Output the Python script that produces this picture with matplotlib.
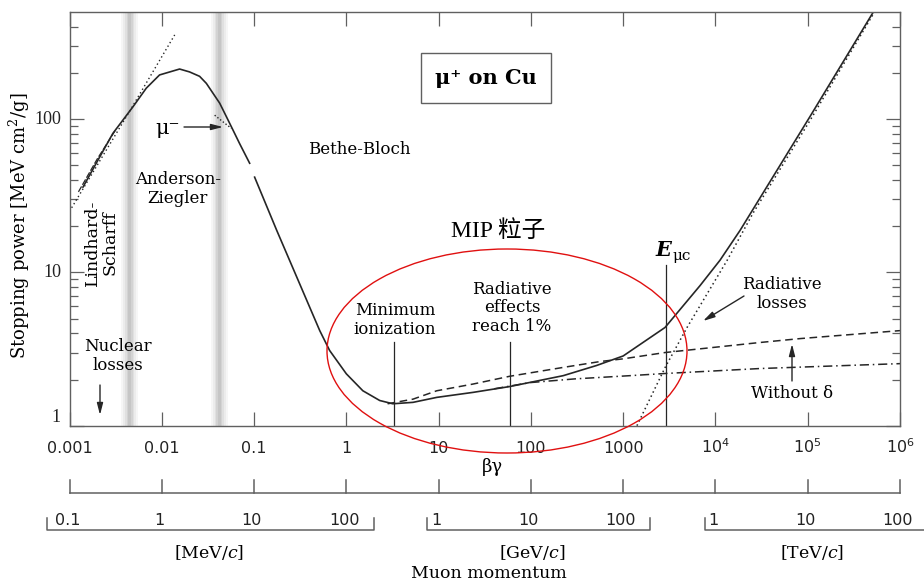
import matplotlib
matplotlib.use("Agg")
import matplotlib.pyplot as plt
from matplotlib.patches import Ellipse
from matplotlib.lines import Line2D
from matplotlib.ticker import LogLocator, NullLocator, NullFormatter
from matplotlib.transforms import blended_transform_factory

plt.rcParams["font.family"] = ["DejaVu Serif"]
plt.rcParams["mathtext.fontset"] = "dejavuserif"

MU_MASS_GEV = 0.10566

# mu+ on Cu, stopping power vs beta*gamma
az_bg = [0.0014, 0.002, 0.00295, 0.00486, 0.00679, 0.00946, 0.0156, 0.02, 0.0257,
         0.0304, 0.0424, 0.05, 0.059, 0.0699, 0.0896]
az_val = [36, 53, 80.6, 120, 159, 194, 212, 203, 190, 171, 127, 104, 85, 69, 51.5]

bb_bg = [0.1014, 0.176, 0.30, 0.515, 0.66, 1.0, 1.51, 2.30, 3.19, 5.28, 9.55, 23.7,
         58.8, 224, 515, 1000, 2840, 6810, 11200, 18500, 1.06e5, 5.2e5]
bb_val = [41.8, 18.8, 8.9, 4.17, 3.09, 2.18, 1.69, 1.46, 1.39, 1.42, 1.53, 1.65,
          1.80, 2.12, 2.47, 2.85, 4.37, 8.2, 12.0, 18.8, 104, 505]

# Lindhard-Scharff (dashed) and Anderson-Ziegler extension (dotted)
ls_bg = [0.00125, 0.002, 0.0032]
ls_val = [33.5, 55, 86]
azx_bg = [0.001, 0.0045, 0.0138]
azx_val = [25, 113, 354]

# mu- branch
mum_bg = [0.0374, 0.047, 0.0568]
mum_val = [106, 95, 87]

# without density effect (dashed), ionization only (dash-dot), radiative (dotted)
nodelta_bg = [2.8, 5.28, 9.55, 23.7, 58.8, 224, 560, 1000, 2840, 30500, 83000, 1e6]
nodelta_val = [1.39, 1.49, 1.69, 1.87, 2.10, 2.40, 2.62, 2.73, 3.0, 3.49, 3.70, 4.17]
ion_bg = [40, 97.5, 300, 1185, 2840, 30500, 1e6]
ion_val = [1.74, 1.91, 2.02, 2.12, 2.19, 2.36, 2.54]
rad_bg = [1410, 2840, 4920, 13400, 25600, 1.06e5, 5.3e5]
rad_val = [1.0, 2.39, 4.37, 12.0, 24.4, 98, 500]

# marker lines (beta*gamma, top value)
markers_bg = [3.3, 60, 2880]
markers_top = [3.54, 3.54, 11.2]

# grey transition bands
band_bg = [0.0045, 0.042]

x_ticks = [1e-3, 1e-2, 1e-1, 1, 10, 100, 1000, 1e4, 1e5, 1e6]
x_labels = ["0.001", "0.01", "0.1", "1", "10", "100", "1000",
            "$10^4$", "$10^5$", "$10^6$"]
y_ticks = [1, 10, 100]
y_labels = ["1", "10", "100"]

# momentum scales
mev_p = [0.1, 1, 10, 100]
gev_p = [1, 10, 100]
tev_p = [1, 10, 100]
mev_range = [0.06, 210]
gev_range = [0.79, 206]
tev_range = [0.81, 420]

INK = "#262626"
GRAY = "#606060"
W, H = 924, 581


def fy(y):
    return 1 - y / H


fig = plt.figure(figsize=(W / 100, H / 100), dpi=100)
ax = fig.add_axes([69.5 / W, fy(425.7), 830.5 / W, 413.4 / H])
ax.set_xscale("log")
ax.set_yscale("log")

for s in ax.spines.values():
    s.set_color(GRAY)
    s.set_linewidth(1.0)

# grey bands with soft edges
for b in band_bg:
    for hw, a in [(0.09, 0.07), (0.07, 0.09), (0.05, 0.12), (0.032, 0.15), (0.016, 0.18)]:
        ax.axvspan(b / 10 ** hw, b * 10 ** hw, color="#8c8c8c", alpha=a, lw=0, zorder=0)

ax.plot(az_bg, az_val, color=INK, lw=1.2)
ax.plot(bb_bg, bb_val, color=INK, lw=1.2)
ax.plot(ls_bg, ls_val, color=INK, lw=0.9, dashes=(5, 1.5))
ax.plot(azx_bg, azx_val, color=INK, lw=1.0, linestyle=(0, (1, 2)))
ax.plot(mum_bg, mum_val, color=INK, lw=1.0, linestyle=(0, (1, 1.5)))
ax.plot(nodelta_bg, nodelta_val, color=INK, lw=1.1, dashes=(5, 3))
ax.plot(ion_bg, ion_val, color=INK, lw=1.1, dashes=(6, 2.5, 1, 2.5))
ax.plot(rad_bg, rad_val, color=INK, lw=1.1, linestyle=(0, (1, 2)))

for b, t in zip(markers_bg, markers_top):
    ax.plot([b, b], [1, t], color=INK, lw=0.9)

ax.set_xticks(x_ticks)
ax.set_xticklabels([])
ax.xaxis.set_minor_locator(NullLocator())
ax.set_yticks(y_ticks)
ax.set_yticklabels([])
ax.yaxis.set_minor_locator(LogLocator(base=10, subs=range(2, 10)))
ax.yaxis.set_minor_formatter(NullFormatter())
ax.tick_params(axis="x", which="major", direction="in", top=True, bottom=True,
               length=10, width=0.9, color=GRAY)
ax.tick_params(axis="y", which="major", direction="in", left=True, right=True,
               length=10, width=0.9, color=GRAY)
ax.tick_params(axis="y", which="minor", direction="in", left=True, right=True,
               length=5.5, width=0.9, color=GRAY)
ax.set_xlim(1e-3, 1e6)
ax.set_ylim(1, 497)

# tick labels
xt = blended_transform_factory(ax.transData, fig.transFigure)
yt = blended_transform_factory(fig.transFigure, ax.transData)
for v, lbl in zip(x_ticks, x_labels):
    ax.text(v, fy(453), lbl, transform=xt, ha="center", va="baseline",
            fontsize=11.5, family="DejaVu Sans", math_fontfamily="dejavusans",
            color="#222")
for v, lbl in zip(y_ticks, y_labels):
    ax.text(61 / W, v, lbl, transform=yt, ha="right",
            va="bottom" if v == 1 else "center", fontsize=13,
            family="Liberation Serif", color="#222")

fig.text(19 / W, fy(226), "Stopping power [MeV cm$^2$/g]", rotation=90,
         ha="center", va="center", fontsize=13)
fig.text(492 / W, fy(467), "βγ", ha="center", va="center", fontsize=13)

# beta*gamma repeat scale
ax.add_line(Line2D([1e-3, 1e6], [fy(493), fy(493)], transform=xt, color=GRAY,
                   lw=1.1, clip_on=False))
for v in x_ticks:
    ax.add_line(Line2D([v, v], [fy(493), fy(480)], transform=xt, color=GRAY,
                       lw=1.1, clip_on=False))

# momentum brackets
for rng, ps, scale, unit, ux in [(mev_range, mev_p, 1e-3, "[MeV/$c$]", 209),
                                 (gev_range, gev_p, 1.0, "[GeV/$c$]", 532),
                                 (tev_range, tev_p, 1e3, "[TeV/$c$]", 812)]:
    lo = rng[0] * scale / MU_MASS_GEV
    hi = rng[1] * scale / MU_MASS_GEV
    ax.add_line(Line2D([lo, lo, hi, hi], [fy(518), fy(530), fy(530), fy(518)],
                       transform=xt, color=GRAY, lw=1.1, clip_on=False))
    for p in ps:
        lbl = ("%g" % p)
        ax.text(p * scale / MU_MASS_GEV, fy(525), lbl, transform=xt, ha="center",
                va="baseline", fontsize=11.5, family="DejaVu Sans", color="#222")
    fig.text(ux / W, fy(553), unit, ha="center", va="center", fontsize=12.5)
fig.text(489 / W, fy(573), "Muon momentum", ha="center", va="center", fontsize=12.5)

# annotations
fig.text(486 / W, fy(78), "μ⁺ on Cu", ha="center", va="center", fontsize=15,
         weight="bold",
         bbox=dict(boxstyle="square,pad=0.7", fc="white", ec=GRAY, lw=1.0))
fig.text(359 / W, fy(149), "Bethe-Bloch", ha="center", va="center", fontsize=12)
fig.text(178 / W, fy(189), "Anderson-\nZiegler", ha="center", va="center",
         fontsize=12, linespacing=1.1)
fig.text(101 / W, fy(243), "Lindhard-\nScharff", ha="center", va="center",
         fontsize=12.5, rotation=90, linespacing=1.0)
fig.text(118 / W, fy(356), "Nuclear\nlosses", ha="center", va="center",
         fontsize=12, linespacing=1.1)
fig.text(395 / W, fy(320), "Minimum\nionization", ha="center", va="center",
         fontsize=12, linespacing=1.1)
fig.text(512 / W, fy(308), "Radiative\neffects\nreach 1%", ha="center",
         va="center", fontsize=12, linespacing=1.1)
fig.text(782 / W, fy(294), "Radiative\nlosses", ha="center", va="center",
         fontsize=12, linespacing=1.1)
fig.text(792 / W, fy(393), "Without δ", ha="center", va="center", fontsize=12)
fig.text(168 / W, fy(128), "μ⁻", ha="center", va="center", fontsize=15)
fig.text(663 / W, fy(250), "E", ha="center", va="center", fontsize=15,
         style="italic", weight="bold")
fig.text(682 / W, fy(256), "μc", ha="center", va="center", fontsize=11)
fig.text(498 / W, fy(231), "MIP 粒子", ha="center", va="center", fontsize=17,
         family=["Liberation Serif", "Noto Sans CJK SC"])

arrow = dict(arrowstyle="-|>,head_length=0.7,head_width=0.18", color=INK, lw=1.0,
             shrinkA=0, shrinkB=0)
for tail, tip in [((184, 127), (223, 127)), ((100, 385), (100, 415)),
                  ((744, 296), (703, 321)), ((792, 381), (792, 344))]:
    ax.annotate("", xy=(tip[0], H - tip[1]), xytext=(tail[0], H - tail[1]),
                xycoords="figure pixels", textcoords="figure pixels",
                arrowprops=arrow)

fig.add_artist(Ellipse((507 / W, fy(351)), 360 / W, 204 / H,
                       transform=fig.transFigure, fill=False, ec="#e01010", lw=1.0,
                       zorder=10))

fig.savefig("out.png", dpi=100)
